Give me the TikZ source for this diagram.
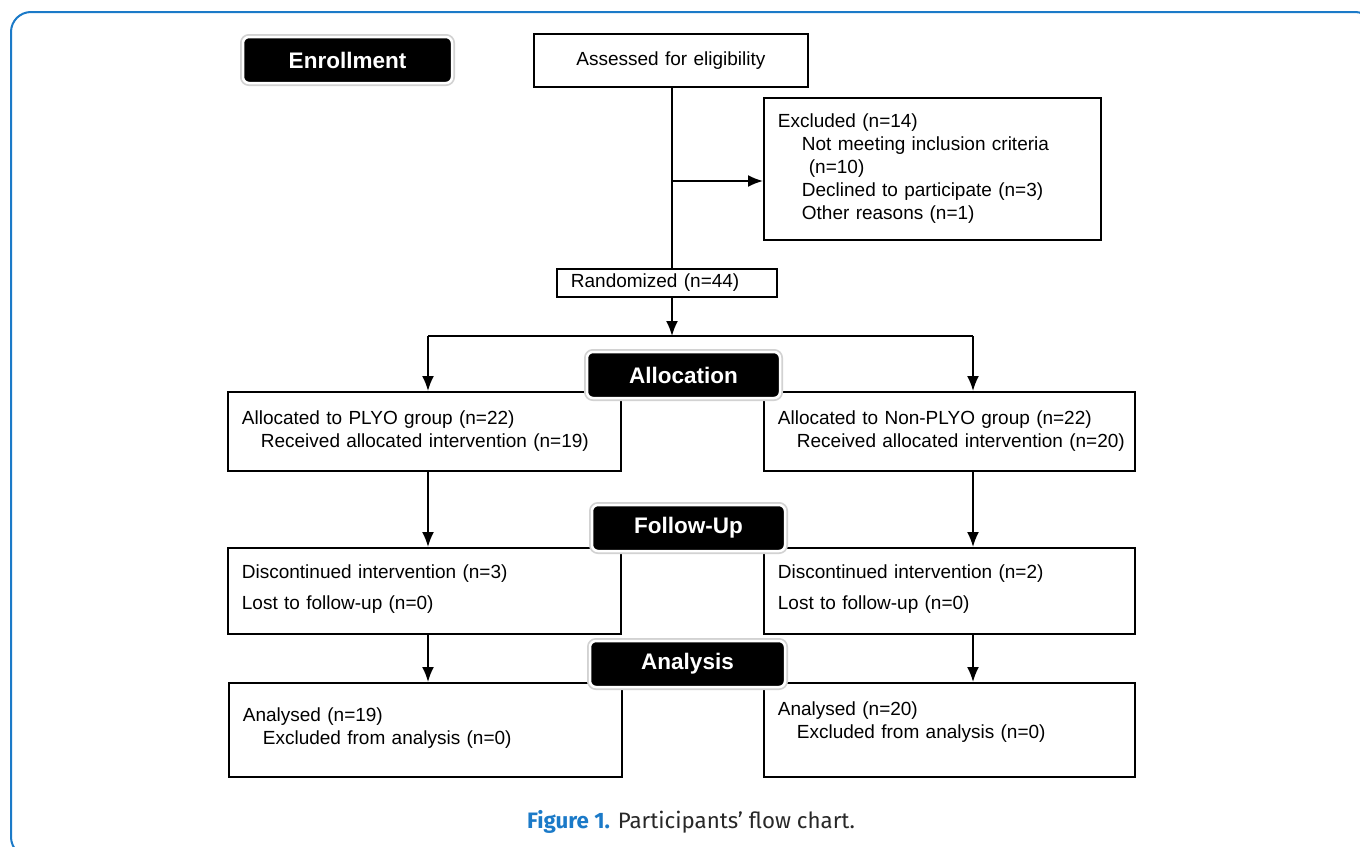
\documentclass[tikz,border=0pt]{standalone}
\usepackage{fontspec}
\setsansfont{Liberation Sans}
\newfontfamily\capfont{Fira Sans}
\usetikzlibrary{arrows.meta,positioning}
\definecolor{frameblue}{RGB}{27,122,200}
\definecolor{capgray}{RGB}{40,40,40}

\begin{document}
\begin{tikzpicture}[x=1pt,y=-1pt,line width=1.8pt,>={Latex[length=15pt,width=12pt]},
  box/.style={draw,anchor=north west,align=left,inner xsep=14pt,inner ysep=4pt,font=\sffamily\fontsize{19}{23}\selectfont},
  tag/.style={fill=black,text=white,rounded corners=6pt,draw=white,line width=2.5pt,preaction={draw=gray!35,line width=6pt},minimum width=193pt,minimum height=46pt,font=\sffamily\bfseries\fontsize{22.5}{26}\selectfont}]
  \useasboundingbox (0,0) rectangle (1360,846);
  \draw[frameblue,line width=2pt,rounded corners=20pt] (11,12) rectangle (1375,857);

  \node[box,text width=246pt,minimum height=53pt,align=center] (assess) at (533,33) {Assessed for eligibility};
  \node[box,text width=309pt,minimum height=142pt] (excl) at (763,97) {Excluded (n=14)\\\hspace*{24pt}Not meeting inclusion criteria\\\hspace*{31pt}(n=10)\\\hspace*{24pt}Declined to participate (n=3)\\\hspace*{24pt}Other reasons (n=1)};
  \node[box,text width=192pt,minimum height=28pt,inner ysep=2pt] (rand) at (556,268) {Randomized (n=44)};
  \node[box,text width=365pt,minimum height=79pt] (allocL) at (227,391) {Allocated to PLYO group (n=22)\\\hspace*{19pt}Received allocated intervention (n=19)};
  \node[box,text width=343pt,minimum height=79pt] (allocR) at (763,391) {Allocated to Non-PLYO group (n=22)\\\hspace*{19pt}\mbox{Received allocated intervention (n=20)}};
  \node[box,text width=365pt,minimum height=86pt] (fupL) at (227,547) {Discontinued intervention (n=3)\\[8pt]Lost to follow-up (n=0)\\[-15pt]\mbox{}};
  \node[box,text width=343pt,minimum height=86pt] (fupR) at (763,547) {Discontinued intervention (n=2)\\[8pt]Lost to follow-up (n=0)\\[-15pt]\mbox{}};
  \node[box,text width=365pt,minimum height=94pt] (anaL) at (228,682) {Analysed (n=19)\\\hspace*{20pt}Excluded from analysis (n=0)\\[-15pt]\mbox{}};
  \node[box,text width=343pt,minimum height=94pt] (anaR) at (763,682) {Analysed (n=20)\\\hspace*{19pt}Excluded from analysis (n=0)\\[-3pt]\mbox{}};

  \coordinate (split) at (672,181);
  \coordinate (fork) at (672,336);
  \coordinate (colL) at (428,0);
  \coordinate (colR) at (973,0);
  \draw (split |- assess.south) -- (split |- rand.north);
  \draw[->] (split) -- (split -| excl.west);
  \draw[->] (split |- rand.south) -- (fork);
  \draw (fork -| colL) -- (fork -| colR);
  \draw[->] (fork -| colL) -- (colL |- allocL.north);
  \draw[->] (fork -| colR) -- (colR |- allocR.north);
  \foreach \a/\b in {allocL/fupL,fupL/anaL}
    \draw[->] (colL |- \a.south) -- (colL |- \b.north);
  \foreach \a/\b in {allocR/fupR,fupR/anaR}
    \draw[->] (colR |- \a.south) -- (colR |- \b.north);

  \node[tag,minimum width=209pt] (enrol) at (347.5,60) {Enrollment};
  \node[tag] (alloc) at (683.5,375) {Allocation};
  \node[tag] (fup) at (688.5,528) {Follow-Up};
  \node[tag,minimum width=195pt] (ana) at (687.5,664) {Analysis};

  \node[font=\capfont\fontsize{22.3}{26}\selectfont,text=capgray] (cap) at (691,822) {\textcolor{frameblue}{\bfseries Figure 1.} Participants’ flow chart.};
\end{tikzpicture}
\end{document}
